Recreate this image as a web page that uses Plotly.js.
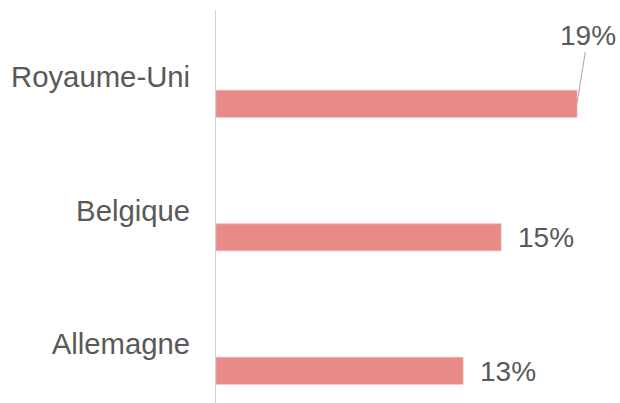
<!DOCTYPE html>
<html>
<head>
<meta charset="utf-8">
<script src="https://cdn.plot.ly/plotly-3.0.1.min.js"></script>
<style>html,body{margin:0;padding:0;background:#fff;}#chart{width:620px;height:403px;}</style>
</head>
<body>
<div id="chart"></div>
<script>
// Data
const categories = ["Allemagne", "Belgique", "Royaume-Uni"];
const values = [13, 15, 19];
const valueLabels = ["13%", "15%", "19%"];

const textColor = "#595959";
const fontFamily = "Arial, 'Liberation Sans', sans-serif";

const trace = {
  type: "bar",
  orientation: "h",
  y: categories,
  x: values,
  width: 0.202,
  offset: -0.302,
  marker: { color: "#E88A88", line: { color: "#F0B2B0", width: 0.75 } },
  hoverinfo: "skip"
};

const annotations = categories.map((c, i) => {
  if (i === categories.length - 1) {
    return {
      x: values[i], y: c, xref: "x", yref: "y",
      text: valueLabels[i], showarrow: true, arrowhead: 0,
      arrowcolor: "#a6a6a6", arrowwidth: 1,
      yshift: -26, ax: 11, ay: -68,
      font: { family: fontFamily, size: 28, color: textColor }
    };
  }
  return {
    x: values[i], y: c, xref: "x", yref: "y",
    text: valueLabels[i], showarrow: false,
    xanchor: "left", yanchor: "middle",
    xshift: 15, yshift: -27,
    font: { family: fontFamily, size: 28, color: textColor }
  };
});

const layout = {
  width: 620, height: 403,
  margin: { l: 216, r: 0, t: 10, b: 0, pad: 0 },
  paper_bgcolor: "#fff", plot_bgcolor: "#fff",
  showlegend: false,
  xaxis: {
    range: [0, 21.26], showgrid: false, zeroline: false,
    showticklabels: false, showline: false, ticks: ""
  },
  yaxis: {
    type: "category", categoryorder: "array", categoryarray: categories,
    range: [-0.442, 2.502],
    showgrid: false, zeroline: false,
    showline: true, linecolor: "#d0d0d0", linewidth: 1,
    ticks: "", ticklabelstandoff: 19,
    tickfont: { family: fontFamily, size: 29.3, color: textColor }
  },
  annotations: annotations
};

Plotly.newPlot("chart", [trace], layout, { staticPlot: true, displayModeBar: false });
</script>
</body>
</html>
